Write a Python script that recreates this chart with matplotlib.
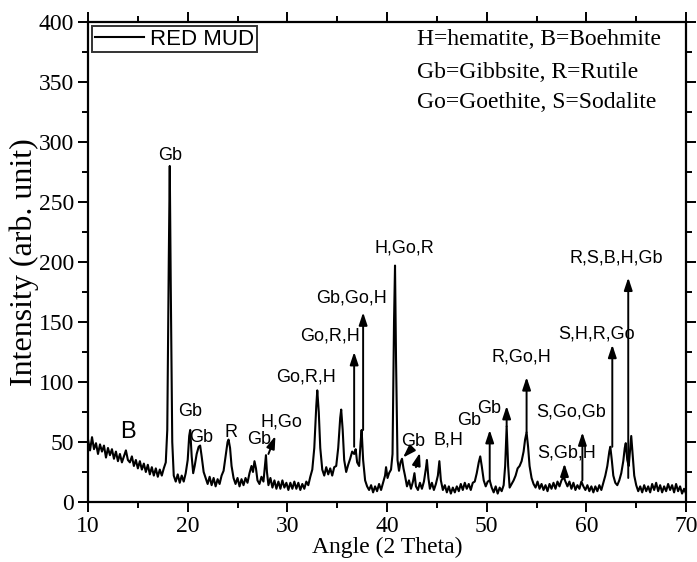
import numpy as np
import matplotlib
matplotlib.use("Agg")
import matplotlib.pyplot as plt
import matplotlib.transforms as mtransforms
from matplotlib.ticker import MultipleLocator

# XRD pattern of red mud
angle = [
    10.0, 10.2, 10.4, 10.6, 10.8, 11.0, 11.2, 11.4, 11.6, 11.8,
    12.0, 12.2, 12.4, 12.6, 12.8, 13.0, 13.2, 13.4, 13.6, 13.8,
    14.0, 14.2, 14.4, 14.6, 14.8, 15.0, 15.2, 15.4, 15.6, 15.8,
    16.0, 16.2, 16.4, 16.6, 16.8, 17.0, 17.2, 17.4, 17.6, 17.8,
    17.95, 18.1, 18.2, 18.3, 18.45, 18.6, 18.8, 19.0, 19.2, 19.4,
    19.6, 19.8, 20.0, 20.15, 20.25, 20.4, 20.55, 20.7, 20.9, 21.1,
    21.25, 21.4, 21.6, 21.8, 22.0, 22.2, 22.4, 22.6, 22.8, 23.0,
    23.2, 23.4, 23.6, 23.8, 24.0, 24.1, 24.25, 24.4, 24.6, 24.8,
    25.0, 25.2, 25.4, 25.6, 25.8, 26.0, 26.2, 26.4, 26.55, 26.7,
    26.85, 27.0, 27.2, 27.4, 27.6, 27.75, 27.85, 27.95, 28.1, 28.3,
    28.5, 28.7, 28.9, 29.1, 29.3, 29.5, 29.7, 29.9, 30.1, 30.3,
    30.5, 30.7, 30.9, 31.1, 31.3, 31.5, 31.7, 31.9, 32.1, 32.3,
    32.5, 32.7, 32.9, 33.0, 33.15, 33.3, 33.5, 33.7, 33.9, 34.1,
    34.3, 34.5, 34.7, 34.9, 35.1, 35.3, 35.4, 35.55, 35.7, 35.9,
    36.1, 36.3, 36.5, 36.7, 36.85, 37.0, 37.2, 37.35, 37.45, 37.6,
    37.8, 38.0, 38.2, 38.4, 38.6, 38.8, 39.0, 39.2, 39.4, 39.6,
    39.8, 39.9, 40.05, 40.2, 40.4, 40.55, 40.7, 40.8, 40.9, 41.05,
    41.2, 41.35, 41.5, 41.65, 41.8, 42.0, 42.2, 42.4, 42.6, 42.75,
    42.9, 43.1, 43.3, 43.5, 43.7, 43.9, 44.0, 44.15, 44.3, 44.5,
    44.7, 44.9, 45.1, 45.25, 45.4, 45.6, 45.8, 46.0, 46.2, 46.4,
    46.6, 46.8, 47.0, 47.2, 47.4, 47.6, 47.8, 48.0, 48.2, 48.4,
    48.6, 48.8, 49.0, 49.2, 49.35, 49.5, 49.7, 49.9, 50.1, 50.3,
    50.5, 50.7, 50.9, 51.1, 51.3, 51.5, 51.7, 51.85, 52.0, 52.15,
    52.3, 52.5, 52.7, 52.9, 53.1, 53.3, 53.5, 53.7, 53.85, 54.0,
    54.15, 54.3, 54.5, 54.7, 54.9, 55.1, 55.3, 55.5, 55.7, 55.9,
    56.1, 56.3, 56.5, 56.7, 56.9, 57.1, 57.3, 57.5, 57.7, 57.9,
    58.1, 58.3, 58.5, 58.7, 58.9, 59.1, 59.3, 59.5, 59.7, 59.9,
    60.1, 60.3, 60.5, 60.7, 60.9, 61.1, 61.3, 61.5, 61.7, 61.9,
    62.1, 62.3, 62.4, 62.55, 62.7, 62.9, 63.1, 63.3, 63.5, 63.7,
    63.85, 63.95, 64.1, 64.25, 64.4, 64.5, 64.65, 64.8, 65.0, 65.2,
    65.4, 65.6, 65.8, 66.0, 66.2, 66.4, 66.6, 66.8, 67.0, 67.2,
    67.4, 67.6, 67.8, 68.0, 68.2, 68.4, 68.6, 68.8, 69.0, 69.2,
    69.4, 69.6, 69.8, 70.0,
]
intensity = [
    52, 43, 54, 44, 49, 40, 48, 42, 47, 37,
    45, 39, 44, 36, 42, 34, 40, 33, 38, 43,
    35, 33, 38, 30, 35, 28, 34, 27, 32, 25,
    31, 23, 29, 22, 28, 21, 27, 22, 28, 33,
    60, 200, 280, 180, 50, 22, 17, 23, 16, 22,
    17, 24, 35, 55, 60, 38, 24, 30, 40, 46,
    47, 38, 25, 20, 15, 21, 14, 20, 13, 19,
    15, 22, 26, 38, 50, 52, 45, 30, 20, 15,
    20, 13, 19, 14, 20, 16, 24, 30, 25, 34,
    28, 18, 15, 21, 17, 30, 39, 25, 14, 20,
    12, 18, 11, 17, 11, 18, 12, 16, 10, 16,
    11, 17, 11, 16, 10, 15, 11, 17, 14, 21,
    27, 45, 80, 93, 75, 45, 27, 22, 29, 23,
    28, 22, 29, 30, 45, 70, 77, 60, 35, 25,
    31, 36, 42, 40, 44, 33, 30, 50, 60, 35,
    18, 13, 10, 14, 8, 13, 9, 15, 10, 16,
    22, 29, 20, 24, 27, 40, 150, 197, 120, 35,
    26, 33, 36, 28, 22, 13, 18, 11, 17, 24,
    13, 10, 16, 11, 17, 28, 35, 20, 11, 16,
    10, 15, 22, 34, 18, 10, 14, 8, 13, 7,
    12, 8, 13, 9, 15, 10, 16, 11, 15, 10,
    16, 17, 24, 33, 38, 30, 18, 13, 17, 18,
    12, 8, 13, 7, 12, 9, 14, 30, 63, 30,
    12, 15, 18, 22, 28, 30, 34, 42, 52, 58,
    46, 30, 20, 15, 12, 17, 11, 15, 10, 14,
    9, 15, 11, 16, 11, 17, 13, 18, 21, 17,
    13, 17, 11, 16, 10, 14, 11, 17, 13, 10,
    14, 9, 13, 8, 13, 9, 14, 10, 16, 22,
    30, 42, 46, 35, 22, 16, 14, 18, 24, 34,
    45, 49, 35, 30, 45, 55, 38, 22, 14, 9,
    13, 8, 14, 9, 13, 8, 15, 10, 16, 9,
    14, 8, 13, 9, 15, 10, 14, 8, 15, 9,
    13, 7, 11, 7,
]

# phase labels: text, x, y
label_text = ["B", "Gb", "Gb", "Gb", "R", "Gb", "H,Go", "Go,R,H", "Go,R,H",
              "Gb,Go,H", "H,Go,R", "Gb", "B,H", "Gb", "Gb", "R,Go,H",
              "S,Go,Gb", "S,Gb,H", "S,H,R,Go", "R,S,B,H,Gb"]
label_x = [14.0, 18.2, 20.2, 21.3, 24.3, 27.2, 29.4, 31.9, 34.3,
           36.4, 41.7, 42.6, 46.2, 48.2, 50.2, 53.5,
           58.5, 58.0, 61.0, 63.0]
label_y = [58, 289, 75, 54, 58, 52, 67, 104, 138,
           170, 212, 50, 52, 68, 78, 121,
           75, 41, 140, 203]

# vertical arrows: x, start, tip
arrow_x = [36.7, 37.6, 50.3, 52.0, 54.0, 57.8, 59.6, 62.6, 64.2]
arrow_y0 = [46, 60, 18, 63, 58, 19, 18, 46, 20]
arrow_y1 = [125, 158, 60, 80, 104, 32, 58, 131, 187]

# slanted arrows: (x0, y0) -> (x1, y1)
slant_from = [(28.1, 40), (42.3, 43), (42.9, 29)]
slant_to = [(28.8, 55), (41.6, 37), (43.3, 41)]

key_lines = ["H=hematite, B=Boehmite", "Gb=Gibbsite, R=Rutile",
             "Go=Goethite, S=Sodalite"]
key_y = [385, 358, 333]

serif = "Liberation Serif"
sans = "Liberation Sans"

fig = plt.figure(figsize=(6.97, 5.62), dpi=100)
ax = fig.add_axes([0.1263, 0.1068, 0.8580, 0.8541])

ax.plot(angle, intensity, color="black", lw=1.5, label="RED MUD")

for t, x, y in zip(label_text, label_x, label_y):
    fs = 17 if t == "B" else 13
    ax.text(x, y, t, ha="center", va="center", fontsize=fs, family=sans)

aprops = dict(arrowstyle="-|>,head_length=0.75,head_width=0.25", color="black",
              lw=1.4, shrinkA=0, shrinkB=0)
for x, y0, y1 in zip(arrow_x, arrow_y0, arrow_y1):
    ax.annotate("", xy=(x, y1), xytext=(x, y0), arrowprops=aprops)
for p0, p1 in zip(slant_from, slant_to):
    ax.annotate("", xy=p1, xytext=p0, arrowprops=aprops)

for line, y in zip(key_lines, key_y):
    ax.text(43.0, y, line, ha="left", va="center", fontsize=17, family=serif)

ax.set_xlim(10, 70)
ax.set_ylim(0, 400)
ax.xaxis.set_major_locator(MultipleLocator(10))
ax.xaxis.set_minor_locator(MultipleLocator(5))
ax.yaxis.set_major_locator(MultipleLocator(50))
ax.yaxis.set_minor_locator(MultipleLocator(25))
ax.tick_params(which="both", direction="out", top=True, right=True, width=1.4)
ax.tick_params(which="major", length=7, labelsize=17, pad=3)
ax.tick_params(which="minor", length=4)
for lab in ax.get_xticklabels() + ax.get_yticklabels():
    lab.set_family(serif)
for s in ax.spines.values():
    s.set_linewidth(1.6)

# keep the last x tick label inside the canvas
fig.canvas.draw()
last = ax.get_xticklabels()[-1]
last.set_transform(last.get_transform() +
                   mtransforms.ScaledTranslation(-3 / 72, 0, fig.dpi_scale_trans))

ax.set_xlabel("Angle (2 Theta)", fontsize=17, family=serif, labelpad=0)
ax.set_ylabel("Intensity (arb. unit)", fontsize=23, family=serif, labelpad=0)

leg = ax.legend(loc="upper left", prop={"family": sans, "size": 16},
                frameon=True, fancybox=False, edgecolor="black",
                borderaxespad=0.2, handlelength=2.2, borderpad=0.1,
                handletextpad=0.3)
leg.get_frame().set_linewidth(1.4)

fig.savefig("out.png", dpi=100)
